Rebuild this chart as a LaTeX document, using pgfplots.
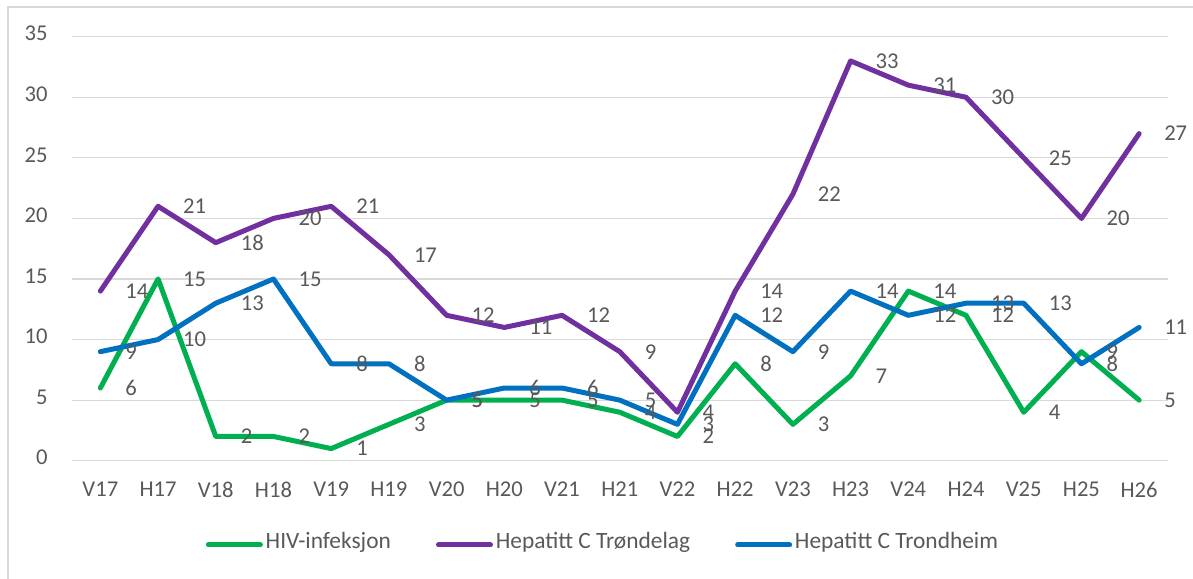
\documentclass[border=0pt]{standalone}
\usepackage{fontspec}
\setmainfont{Carlito}
\usepackage{pgfplots}
\pgfplotsset{compat=1.18}
\definecolor{hivgreen}{RGB}{0,176,80}
\definecolor{hcvpurple}{RGB}{112,48,160}
\definecolor{hcvblue}{RGB}{0,112,192}
\definecolor{labelgray}{RGB}{89,89,89}
\definecolor{gridgray}{RGB}{217,217,217}
\newcommand\cf{\fontsize{11.3}{13.5}\selectfont}
\newcommand\lf{\fontsize{11.7}{14}\selectfont}

\begin{document}
\begin{tikzpicture}
\useasboundingbox (0,0) rectangle (596.5pt,289pt);
\draw[gridgray,line width=1pt] (4pt,-2pt) -- (4pt,285.5pt) -- (600pt,285.5pt);
\begin{axis}[at={(35.75pt,58.65pt)},anchor=south west,
 scale only axis,width=548.25pt,height=212pt,
 xmin=-0.5,xmax=18.5,ymin=0,ymax=35,clip=false,
 xtick={0,...,18},
 xticklabels={V17,H17,V18,H18,V19,H19,V20,H20,V21,H21,V22,H22,V23,H23,V24,H24,V25,H25,H26},
 ytick={0,5,...,35},
 axis line style={draw=none},major tick length=0pt,
 ymajorgrids=true,grid style={gridgray,line width=0.6pt},
 /pgf/number format/assume math mode=true,
 tick label style={font=\cf,text=labelgray,inner sep=0pt},
 xticklabel style={anchor=center,yshift=-14.4pt},
 yticklabel style={anchor=east,xshift=-11.75pt,yshift=1.5pt},
 every axis plot/.append style={line width=2.5pt,line join=round,line cap=round},
 nodes near coords,
 nodes near coords style={font=\cf,text=labelgray,anchor=west,inner sep=0pt,xshift=11.3pt},
 legend columns=3,
 legend style={at={(0.1222,-0.1917)},anchor=west,draw=none,fill=none,inner sep=0pt,
  font=\lf,text=labelgray,nodes={inner sep=0pt},
  /tikz/every odd column/.append style={column sep=1.4pt},
  /tikz/every even column/.append style={column sep=22.5pt}},
 legend image code/.code={\draw[#1,line width=2.5pt,line cap=round] (0pt,-1.5pt) -- (26pt,-1.5pt);},
 legend cell align=left]
\addplot[hivgreen] coordinates {(0,6) (1,15) (2,2) (3,2) (4,1) (5,3) (6,5) (7,5) (8,5) (9,4) (10,2) (11,8) (12,3) (13,7) (14,14) (15,12) (16,4) (17,9) (18,5)};
\addlegendentry{HIV-infeksjon}
\addplot[hcvpurple] coordinates {(0,14) (1,21) (2,18) (3,20) (4,21) (5,17) (6,12) (7,11) (8,12) (9,9) (10,4) (11,14) (12,22) (13,33) (14,31) (15,30) (16,25) (17,20) (18,27)};
\addlegendentry{Hepatitt C Trøndelag}
\addplot[hcvblue] coordinates {(0,9) (1,10) (2,13) (3,15) (4,8) (5,8) (6,5) (7,6) (8,6) (9,5) (10,3) (11,12) (12,9) (13,14) (14,12) (15,13) (16,13) (17,8) (18,11)};
\addlegendentry{Hepatitt C Trondheim}
\end{axis}
\end{tikzpicture}
\end{document}
